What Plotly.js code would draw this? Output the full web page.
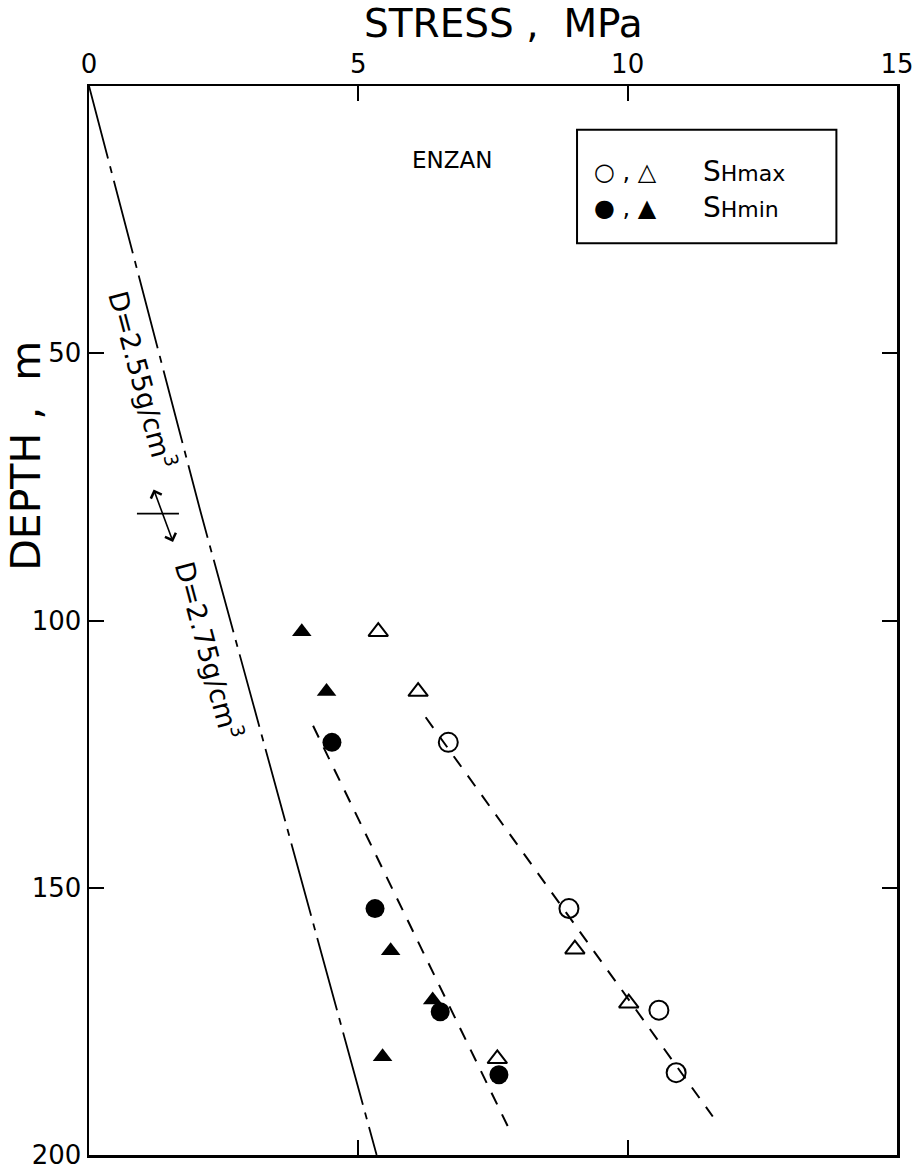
<!DOCTYPE html>
<html><head><meta charset="utf-8">
<script src="https://cdn.plot.ly/plotly-3.0.1.min.js"></script>
<style>body{margin:0;background:#fff}</style>
</head><body><div id="chart" style="width:913px;height:1172px"></div>
<script>
// ---- data (stress in MPa, depth in m) ----
const shmaxCircleStress = [6.67, 8.91, 10.58, 10.90];
const shmaxCircleDepth  = [122.8, 153.9, 172.9, 184.6];
const shmaxTriStress    = [5.37, 6.11, 9.02, 10.02, 7.58];
const shmaxTriDepth     = [102.1, 113.3, 161.5, 171.6, 182.0];
const shminCircleStress = [4.51, 5.31, 6.52, 7.61];
const shminCircleDepth  = [122.8, 153.9, 173.2, 185.0];
const shminTriStress    = [3.95, 4.41, 5.60, 6.38, 5.45];
const shminTriDepth     = [102.1, 113.3, 161.8, 171.0, 181.6];
const shmaxFitStress    = [6.25, 11.58];
const shmaxFitDepth     = [118.1, 192.8];
const shminFitStress    = [4.16, 7.86];
const shminFitDepth     = [119.7, 196.4];
const overburdenStress  = [0, 2.08, 5.34];
const overburdenDepth   = [0, 80, 200];
const xTickVals = [0, 5, 10, 15];
const yTickVals = [50, 100, 150, 200];

const BLACK = '#000';
const FONT = 'DejaVu Sans, sans-serif';

const traces = [
  {x: overburdenStress, y: overburdenDepth, mode: 'lines',
   line: {color: BLACK, width: 1.8, dash: '75px,8px,7px,8px'}},
  {x: shminFitStress, y: shminFitDepth, mode: 'lines',
   line: {color: BLACK, width: 2, dash: '13px,11px'}},
  {x: shmaxFitStress, y: shmaxFitDepth, mode: 'lines',
   line: {color: BLACK, width: 2, dash: '13px,11px'}},
  {x: shmaxCircleStress, y: shmaxCircleDepth, mode: 'markers',
   marker: {symbol: 'circle-open', size: 19, color: BLACK, line: {width: 2, color: BLACK}}},
  {x: shmaxTriStress, y: shmaxTriDepth, mode: 'markers',
   marker: {symbol: 'triangle-up-open', size: 17, color: BLACK, line: {width: 2, color: BLACK}}},
  {x: shminCircleStress, y: shminCircleDepth, mode: 'markers',
   marker: {symbol: 'circle', size: 19, color: BLACK, line: {width: 0}}},
  {x: shminTriStress, y: shminTriDepth, mode: 'markers',
   marker: {symbol: 'triangle-up', size: 17, color: BLACK, line: {width: 0}}}
];

const axisCommon = {
  ticks: 'inside', ticklen: 15, tickwidth: 2, tickcolor: BLACK,
  showline: true, linewidth: 2.5, linecolor: BLACK, mirror: 'ticks',
  showgrid: false, zeroline: false, fixedrange: true,
  ticklabeloverflow: 'allow',
  tickfont: {family: FONT, size: 26, color: BLACK}
};

const layout = {
  width: 913, height: 1172,
  margin: {l: 89, r: 16, t: 86, b: 17},
  paper_bgcolor: '#fff', plot_bgcolor: '#fff',
  showlegend: false,
  font: {family: FONT, color: BLACK},
  xaxis: Object.assign({}, axisCommon, {range: [0, 15], side: 'top', tickvals: xTickVals}),
  yaxis: Object.assign({}, axisCommon, {range: [200, 0], tickvals: yTickVals}),
  shapes: [
    {type: 'rect', xref: 'paper', yref: 'paper', x0: 0.604, x1: 0.925, y0: 0.853, y1: 0.959,
     line: {color: BLACK, width: 2}},
    {type: 'line', xref: 'x', yref: 'y', x0: 0.89, x1: 1.67, y0: 80, y1: 80,
     line: {color: BLACK, width: 1.8}}
  ],
  annotations: [
    {xref: 'paper', yref: 'paper', x: 0.513, y: 1.058, xanchor: 'center', yanchor: 'middle',
     text: 'STRESS ,\u00a0\u00a0MPa', showarrow: false, font: {family: FONT, size: 39, color: BLACK}},
    {xref: 'paper', yref: 'paper', x: -0.078, y: 0.654, xanchor: 'center', yanchor: 'middle',
     text: 'DEPTH ,\u00a0\u00a0m', textangle: -90, showarrow: false, font: {family: FONT, size: 41, color: BLACK}},
    {xref: 'x', yref: 'y', x: 6.73, y: 13.8, xanchor: 'center', yanchor: 'middle',
     text: 'ENZAN', showarrow: false, font: {family: FONT, size: 23, color: BLACK}},
    {xref: 'x', yref: 'y', x: 1.0, y: 55.0, xanchor: 'center', yanchor: 'middle', textangle: 75,
     text: 'D=2.55g/cm<sup>3</sup>', showarrow: false, font: {family: FONT, size: 27, color: BLACK}},
    {xref: 'x', yref: 'y', x: 2.23, y: 105.5, xanchor: 'center', yanchor: 'middle', textangle: 75,
     text: 'D=2.75g/cm<sup>3</sup>', showarrow: false, font: {family: FONT, size: 27, color: BLACK}},
    {xref: 'x', yref: 'y', axref: 'x', ayref: 'y', x: 1.56, y: 85.3, ax: 1.19, ay: 75.2,
     text: '', showarrow: true, arrowside: 'end+start', arrowhead: 4, startarrowhead: 4,
     arrowsize: 1.4, startarrowsize: 1.4, arrowwidth: 1.6, arrowcolor: BLACK},
    {xref: 'paper', yref: 'paper', x: 0.622, y: 0.9196, xanchor: 'left', yanchor: 'middle',
     text: '○ , △', showarrow: false, font: {family: FONT, size: 24, color: BLACK}},
    {xref: 'paper', yref: 'paper', x: 0.622, y: 0.886, xanchor: 'left', yanchor: 'middle',
     text: '● , ▲', showarrow: false, font: {family: FONT, size: 24, color: BLACK}},
    {xref: 'paper', yref: 'paper', x: 0.757, y: 0.9196, xanchor: 'left', yanchor: 'middle',
     text: 'S<span style="font-size:22px">Hmax</span>', showarrow: false, font: {family: FONT, size: 28, color: BLACK}},
    {xref: 'paper', yref: 'paper', x: 0.757, y: 0.886, xanchor: 'left', yanchor: 'middle',
     text: 'S<span style="font-size:22px">Hmin</span>', showarrow: false, font: {family: FONT, size: 28, color: BLACK}}
  ]
};

Plotly.newPlot('chart', traces, layout, {staticPlot: true, displayModeBar: false});
</script>
</body></html>
